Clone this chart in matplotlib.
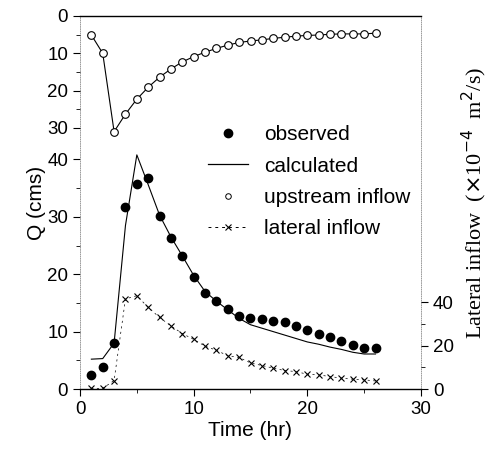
import matplotlib
matplotlib.use("Agg")
import matplotlib.pyplot as plt
from matplotlib.lines import Line2D

plt.rcParams['font.family'] = ['Liberation Sans', 'DejaVu Sans']

time = list(range(1, 27))
observed = [2.4, 3.8, 8.0, 31.7, 35.8, 36.7, 30.1, 26.4, 23.1, 19.6, 16.8, 15.4, 14.0,
            12.8, 12.4, 12.2, 11.9, 11.6, 10.9, 10.3, 9.6, 9.0, 8.3, 7.6, 7.2, 7.1]
calculated = [5.2, 5.3, 8.0, 28.5, 40.8, 35.6, 30.3, 26.5, 23.2, 19.8, 17.0, 15.3, 13.8,
              12.3, 11.2, 10.6, 10.0, 9.4, 8.8, 8.2, 7.8, 7.3, 6.9, 6.4, 6.1, 6.1]
upstream = [5.1, 10.0, 31.0, 26.3, 22.3, 19.1, 16.4, 14.2, 12.3, 10.9, 9.7, 8.7, 7.8,
            7.1, 6.7, 6.4, 6.0, 5.7, 5.4, 5.2, 5.1, 4.9, 4.8, 4.8, 4.8, 4.6]
lateral = [0.3, 0.3, 3.9, 41.4, 42.9, 37.5, 32.9, 29.0, 25.5, 22.8, 19.7, 17.8, 15.3,
           14.5, 12.0, 10.8, 9.6, 8.5, 8.0, 6.8, 6.5, 5.7, 5.0, 4.5, 4.2, 3.7]

x_ticks = [0, 10, 20, 30]
q_ticks = [0, 10, 20, 30, 40]
up_ticks = [0, 10, 20, 30]
lat_ticks = [0, 20, 40]

fig = plt.figure(figsize=(4.88, 4.55), dpi=100)
ax = fig.add_axes([80/488, 1-389/455, 341/488, 373/455])
ax_up = ax.twinx()
ax_lat = ax.twinx()

# main Q axis
ax.plot(time, calculated, color='black', lw=0.8, zorder=3)
ax.plot(time, observed, 'o', color='black', ms=6, zorder=4)
ax.set_xlim(0, 30)
ax.set_ylim(0, 65)
ax.set_xticks(x_ticks)
ax.set_xticks([5, 15, 25], minor=True)
ax.set_yticks(q_ticks)
ax.set_yticks([5, 15, 25, 35], minor=True)
ax.tick_params(axis='both', which='major', labelsize=13.5, length=5, width=0.8, direction='out')
ax.tick_params(axis='both', which='minor', length=3, width=0.6, direction='out')
ax.set_xlabel('Time (hr)', fontsize=15, labelpad=2)
ax.set_ylabel('Q (cms)', fontsize=15, labelpad=1)
for s in ['left', 'right']:
    ax.spines[s].set_linewidth(0.6)
    ax.spines[s].set_color('0.55')
    ax.spines[s].set_linestyle(':')
for s in ['top', 'bottom']:
    ax.spines[s].set_linewidth(1.0)

# upstream inflow axis (inverted, left)
ax_up.plot(time, upstream, '-o', color='black', lw=0.8, ms=5.5, mfc='white', mew=0.8)
ax_up.set_ylim(100, 0)
ax_up.yaxis.set_ticks_position('left')
ax_up.set_yticks(up_ticks)
ax_up.set_yticks([5, 15, 25], minor=True)
ax_up.tick_params(axis='y', which='major', labelsize=13.5, length=5, width=0.8, direction='out')
ax_up.tick_params(axis='y', which='minor', length=3, width=0.6, direction='out')
for s in ax_up.spines.values():
    s.set_visible(False)

# lateral inflow axis (right)
ax_lat.plot(time, lateral, linestyle=(0, (3, 5)), marker='x', color='black', lw=0.5, ms=4.5, mew=0.8)
ax_lat.set_ylim(0, 171.5)
ax_lat.set_yticks(lat_ticks)
ax_lat.set_yticks([10, 30], minor=True)
ax_lat.tick_params(axis='y', which='major', labelsize=13.5, length=5, width=0.8, direction='out')
ax_lat.tick_params(axis='y', which='minor', length=3, width=0.6, direction='out')
for s in ax_lat.spines.values():
    s.set_visible(False)
ax_lat.set_ylabel(r'Lateral inflow  ($\times$10$^{-4}$  m$^{2}$/s)', fontsize=16,
                  family=['Liberation Serif', 'DejaVu Serif'], labelpad=4)

handles = [
    Line2D([], [], linestyle='none', marker='o', color='black', ms=6),
    Line2D([], [], color='black', lw=0.9),
    Line2D([], [], linestyle='none', marker='o', color='black', ms=4, mfc='white', mew=0.7),
    Line2D([], [], linestyle=(0, (3, 4)), marker='x', color='black', lw=0.7, ms=4.5, mew=0.8),
]
labels = ['observed', 'calculated', 'upstream inflow', 'lateral inflow']
ax_lat.legend(handles, labels, loc='upper left', bbox_to_anchor=(208/488, 1-125/455),
              bbox_transform=fig.transFigure, frameon=False, fontsize=15,
              handlelength=1.9, handletextpad=0.8, labelspacing=0.6, borderpad=0,
              borderaxespad=0)

fig.savefig('out.png', dpi=100)
